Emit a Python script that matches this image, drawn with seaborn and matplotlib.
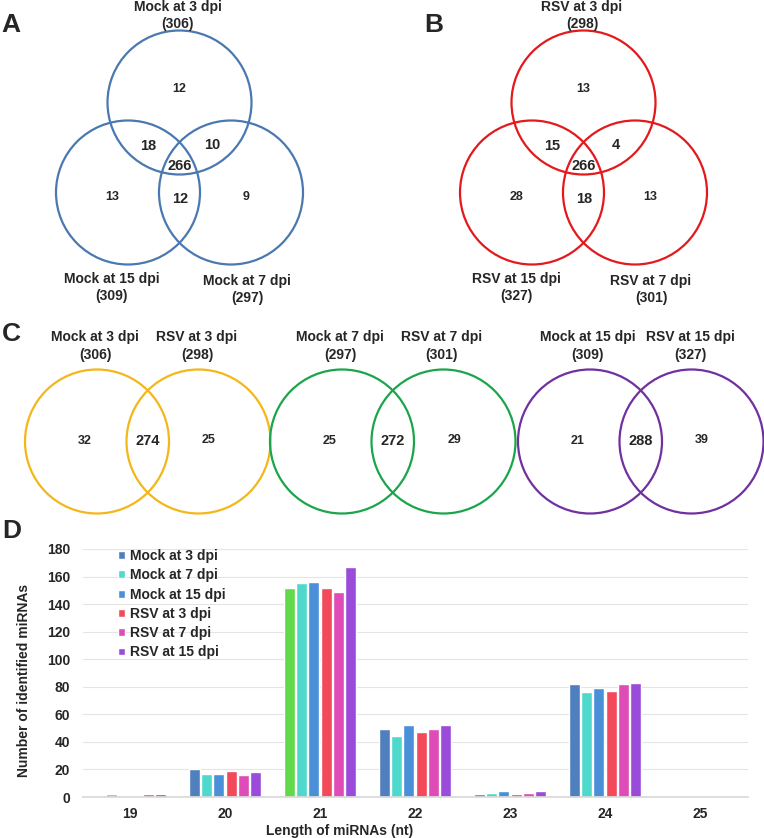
import numpy as np
import pandas as pd
import matplotlib
matplotlib.use("Agg")
import matplotlib.pyplot as plt
from matplotlib.patches import Circle
import seaborn as sns

# --- Venn counts (panels A-C) ---
mock_names = ["Mock at 3 dpi", "Mock at 7 dpi", "Mock at 15 dpi"]
rsv_names = ["RSV at 3 dpi", "RSV at 7 dpi", "RSV at 15 dpi"]
mock_totals = [306, 297, 309]
rsv_totals = [298, 301, 327]
# regions: only3, only7, only15, 3&7, 3&15, 7&15, all
mock_regions = [12, 9, 13, 10, 18, 12, 266]
rsv_regions = [13, 13, 28, 4, 15, 18, 266]
# pairwise mock vs RSV at 3, 7, 15 dpi: only mock, shared, only RSV
pair_mock_only = [32, 25, 21]
pair_shared = [274, 272, 288]
pair_rsv_only = [25, 29, 39]

# --- bar chart data (panel D) ---
lengths = ["19", "20", "21", "22", "23", "24", "25"]
samples = ["Mock at 3 dpi", "Mock at 7 dpi", "Mock at 15 dpi",
           "RSV at 3 dpi", "RSV at 7 dpi", "RSV at 15 dpi"]
mock_3 = [1, 20, 152, 49, 2, 82, 0]
mock_7 = [2, 17, 155, 44, 3, 76, 0]
mock_15 = [1, 17, 156, 52, 4, 79, 0]
rsv_3 = [1, 19, 152, 47, 2, 77, 0]
rsv_7 = [2, 16, 149, 49, 3, 82, 0]
rsv_15 = [2, 18, 167, 52, 4, 83, 1]

bar_colors = ["#4f7fbd", "#4fd9cc", "#4a90d9", "#f24a5a", "#df4bb7", "#9a4bd9"]
odd_bar_color = "#62d94a"  # the 21-nt Mock 3 dpi bar is green in the original

sns.set_theme(style="white")
plt.rcParams["font.family"] = ["Liberation Sans", "DejaVu Sans"]
plt.rcParams["font.weight"] = "bold"

fig = plt.figure(figsize=(7.64, 8.38), dpi=100)

# full-figure axes in pixel units for the Venn panels
vax = fig.add_axes([0, 0, 1, 1])
vax.set_xlim(0, 764)
vax.set_ylim(838, 0)
vax.axis("off")

R = 72


def circle(x, y, color):
    vax.add_patch(Circle((x, y), R, fill=False, ec=color, lw=1.6))


def txt(x, y, s, size):
    vax.text(x, y, s, ha="center", va="center", fontsize=size, fontweight="bold")


def three_way(dx, names, totals, regions, color):
    # centres of 3 / 7 / 15 dpi circles
    circle(179.5 + dx, 102.5, color)
    circle(231 + dx, 192.5, color)
    circle(128 + dx, 192.5, color)
    only3, only7, only15, s37, s315, s715, alls = regions
    txt(179 + dx, 89, only3, 9)
    txt(246 + dx, 197, only7, 9)
    txt(112 + dx, 197, only15, 9)
    txt(212 + dx, 145, s37, 10.5)
    txt(148 + dx, 146, s315, 10.5)
    txt(180 + dx, 199, s715, 10.5)
    txt(180 + dx, 166, alls, 10.5)
    txt(178 + dx, 7, names[0], 10)
    txt(178 + dx, 24, f"({totals[0]})", 10)
    txt(247 + dx, 281, names[1], 10)
    txt(247 + dx, 298, f"({totals[1]})", 10)
    txt(112 + dx, 279, names[2], 10)
    txt(112 + dx, 296, f"({totals[2]})", 10)


three_way(0, mock_names, mock_totals, mock_regions, "#4a78b0")
three_way(404, rsv_names, rsv_totals, rsv_regions, "#e3191c")

pair_colors = ["#f4b719", "#1ba54b", "#7030a0"]
left_cx = [97, 342, 590]
for i in range(3):
    cx = left_cx[i]
    circle(cx, 441.5, pair_colors[i])
    circle(cx + 101.5, 441.5, pair_colors[i])
    txt(cx - 12, 441, pair_mock_only[i], 9)
    txt(cx + 51, 441, pair_shared[i], 10.5)
    txt(cx + 112, 440, pair_rsv_only[i], 9)
    txt(cx - 2, 337, mock_names[i], 10)
    txt(cx - 2, 355, f"({mock_totals[i]})", 10)
    txt(cx + 100, 337, rsv_names[i], 10)
    txt(cx + 100, 355, f"({rsv_totals[i]})", 10)

for letter, x, y in [("A", 11, 25), ("B", 434, 25), ("C", 11, 334), ("D", 12, 531)]:
    vax.text(x, y, letter, ha="center", va="center", fontsize=19, fontweight="bold")

# --- panel D bar chart ---
df = pd.DataFrame({
    "Length": lengths * len(samples),
    "Sample": np.repeat(samples, len(lengths)),
    "Count": mock_3 + mock_7 + mock_15 + rsv_3 + rsv_7 + rsv_15,
})

bax = fig.add_axes([82.5 / 764, 41 / 838, 665 / 764, 248 / 838])
sns.barplot(data=df, x="Length", y="Count", hue="Sample", hue_order=samples,
            palette=bar_colors, saturation=1, width=0.78, gap=0.12,
            errorbar=None, ax=bax)
bax.containers[0][2].set_facecolor(odd_bar_color)

bax.set_ylim(0, 180)
bax.set_yticks(range(0, 181, 20))
bax.yaxis.grid(True, color="#e4e4e4", lw=0.8)
bax.set_axisbelow(True)
for side in ["left", "top", "right"]:
    bax.spines[side].set_visible(False)
bax.spines["bottom"].set_color("#d9d9d9")
bax.tick_params(axis="both", length=0, labelsize=10)
bax.tick_params(axis="y", pad=9)
bax.tick_params(axis="x", pad=7)
for lab in bax.get_xticklabels() + bax.get_yticklabels():
    lab.set_fontweight("bold")

bax.set_xlabel("Length of miRNAs (nt)", fontsize=10, fontweight="bold")
bax.set_ylabel("Number of identified miRNAs", fontsize=10, fontweight="bold")
bax.xaxis.set_label_coords((340 - 82.5) / 665, -0.11)
bax.yaxis.set_label_coords(-0.078, 0.47)

bax.legend(loc="upper left", bbox_to_anchor=(118 / 764, 1 - 549 / 838),
           bbox_transform=fig.transFigure, frameon=False,
           prop={"size": 10, "weight": "bold"}, handlelength=0.5,
           handleheight=0.5, handletextpad=0.35, labelspacing=0.38,
           borderpad=0, borderaxespad=0)

fig.savefig("out.png", dpi=100, facecolor="white")
